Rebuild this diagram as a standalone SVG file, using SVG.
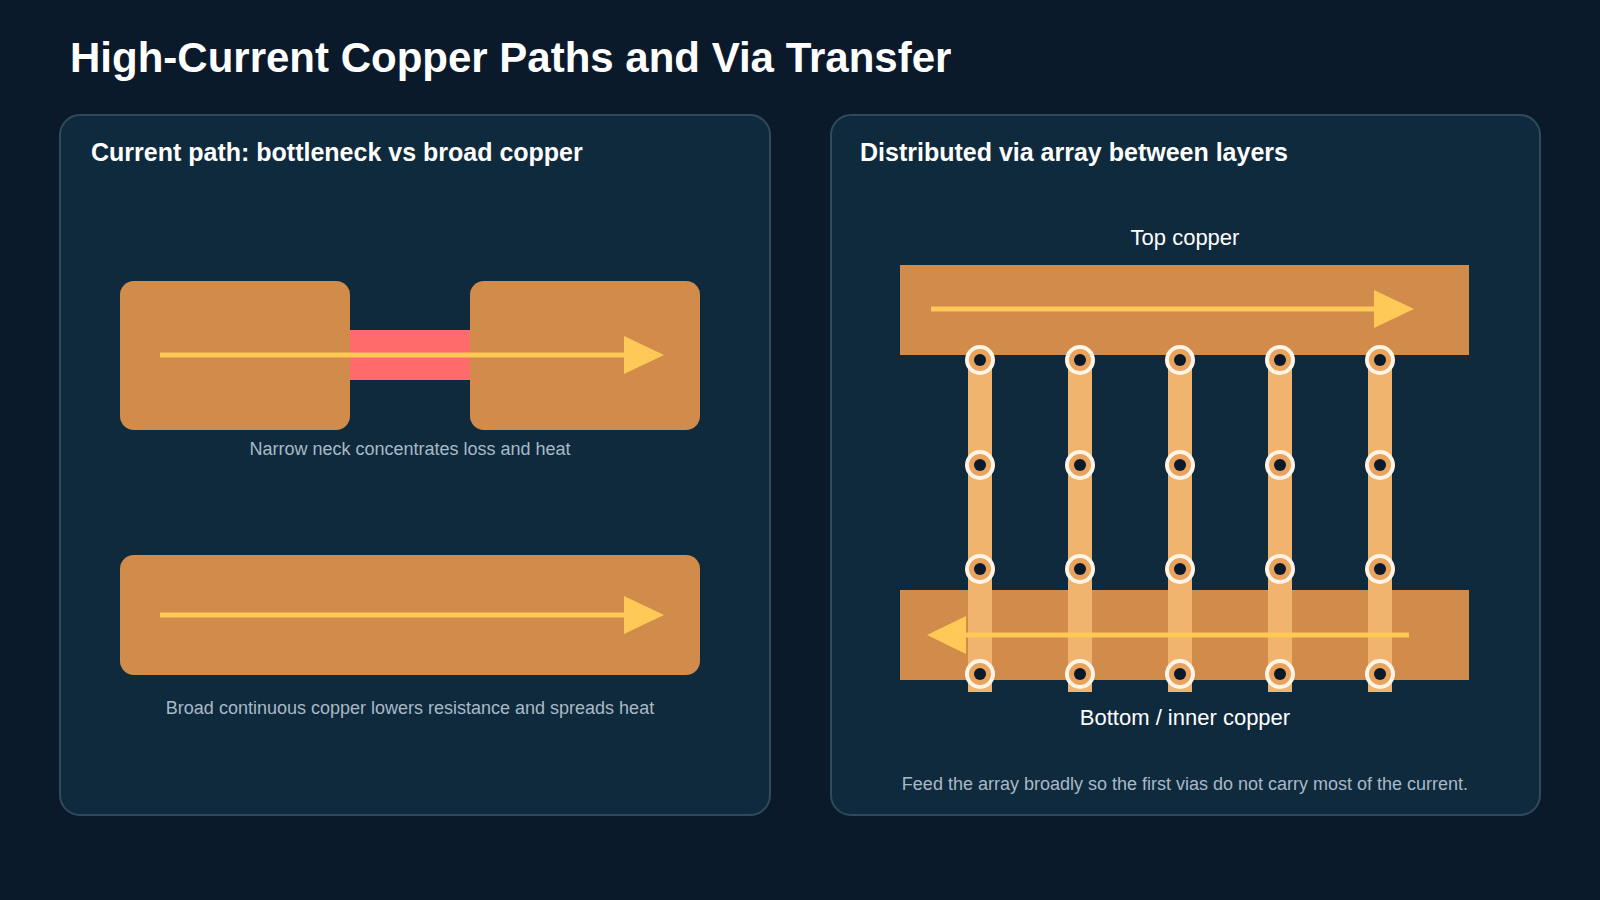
<svg xmlns="http://www.w3.org/2000/svg" width="1600" height="900" viewBox="0 0 1600 900">
<style>
.panel{fill:#0f2a3d;stroke:#2d4b5e;stroke-width:2}
.h{font-family:"Liberation Sans",Arial,sans-serif;font-weight:bold;fill:#ffffff}
.cap{font-family:"Liberation Sans",Arial,sans-serif;font-size:18px;fill:#a9b9c6;text-anchor:middle}
.lbl{font-family:"Liberation Sans",Arial,sans-serif;font-size:22px;fill:#ffffff;text-anchor:middle}
.cu{fill:#d18b4a}
.arr{stroke:#ffc857;stroke-width:5;fill:none}
.head{fill:#ffc857}
.strip{fill:#f0b46e}
.via{fill:#e9a35c;stroke:#fff4e6;stroke-width:4}
.hole{fill:#0b1a2b}
</style>
<defs>
<g id="v"><circle r="13" class="via"/><circle r="6" class="hole"/></g>
</defs>
<rect width="1600" height="900" fill="#0b1a2b"/>
<text x="70" y="72" class="h" font-size="42">High-Current Copper Paths and Via Transfer</text>
<g id="left-panel">
<rect x="60" y="115" width="710" height="700" rx="20" class="panel"/>
<text x="91" y="161" class="h" font-size="25">Current path: bottleneck vs broad copper</text>
</g>
<g id="right-panel">
<rect x="831" y="115" width="709" height="700" rx="20" class="panel"/>
<text x="860" y="161" class="h" font-size="25">Distributed via array between layers</text>
</g>
<g id="bottleneck">
<rect x="120" y="281" width="230" height="149" rx="14" class="cu"/>
<rect x="470" y="281" width="230" height="149" rx="14" class="cu"/>
<rect x="350" y="330" width="120" height="50" fill="#ff6b6b"/>
<text x="410" y="455" class="cap">Narrow neck concentrates loss and heat</text>
</g>
<g id="broad">
<rect x="120" y="555" width="580" height="120" rx="14" class="cu"/>
<text x="410" y="714" class="cap">Broad continuous copper lowers resistance and spreads heat</text>
</g>
<g id="top-copper">
<text x="1185" y="245" class="lbl">Top copper</text>
<rect x="900" y="265" width="569" height="90" class="cu"/>
</g>
<g id="bottom-copper">
<rect x="900" y="590" width="569" height="90" class="cu"/>
<text x="1185" y="725" class="lbl">Bottom / inner copper</text>
</g>
<g id="via-strips">
<rect x="968" y="355" width="24" height="337" class="strip"/>
<rect x="1068" y="355" width="24" height="337" class="strip"/>
<rect x="1168" y="355" width="24" height="337" class="strip"/>
<rect x="1268" y="355" width="24" height="337" class="strip"/>
<rect x="1368" y="355" width="24" height="337" class="strip"/>
</g>
<g id="connectors">
<line x1="160" y1="355" x2="628" y2="355" class="arr"/>
<polygon points="624,336 664,355 624,374" class="head"/>
<line x1="160" y1="615" x2="628" y2="615" class="arr"/>
<polygon points="624,596 664,615 624,634" class="head"/>
<line x1="931" y1="309" x2="1378" y2="309" class="arr"/>
<polygon points="1374,290 1414,309 1374,328" class="head"/>
<line x1="1409" y1="635" x2="962" y2="635" class="arr"/>
<polygon points="966,616 927,635 966,654" class="head"/>
</g>
<g id="vias">
<use href="#v" x="980" y="360"/><use href="#v" x="1080" y="360"/><use href="#v" x="1180" y="360"/><use href="#v" x="1280" y="360"/><use href="#v" x="1380" y="360"/>
<use href="#v" x="980" y="465"/><use href="#v" x="1080" y="465"/><use href="#v" x="1180" y="465"/><use href="#v" x="1280" y="465"/><use href="#v" x="1380" y="465"/>
<use href="#v" x="980" y="569"/><use href="#v" x="1080" y="569"/><use href="#v" x="1180" y="569"/><use href="#v" x="1280" y="569"/><use href="#v" x="1380" y="569"/>
<use href="#v" x="980" y="674"/><use href="#v" x="1080" y="674"/><use href="#v" x="1180" y="674"/><use href="#v" x="1280" y="674"/><use href="#v" x="1380" y="674"/>
</g>
<text x="1185" y="790" class="cap">Feed the array broadly so the first vias do not carry most of the current.</text>
</svg>
